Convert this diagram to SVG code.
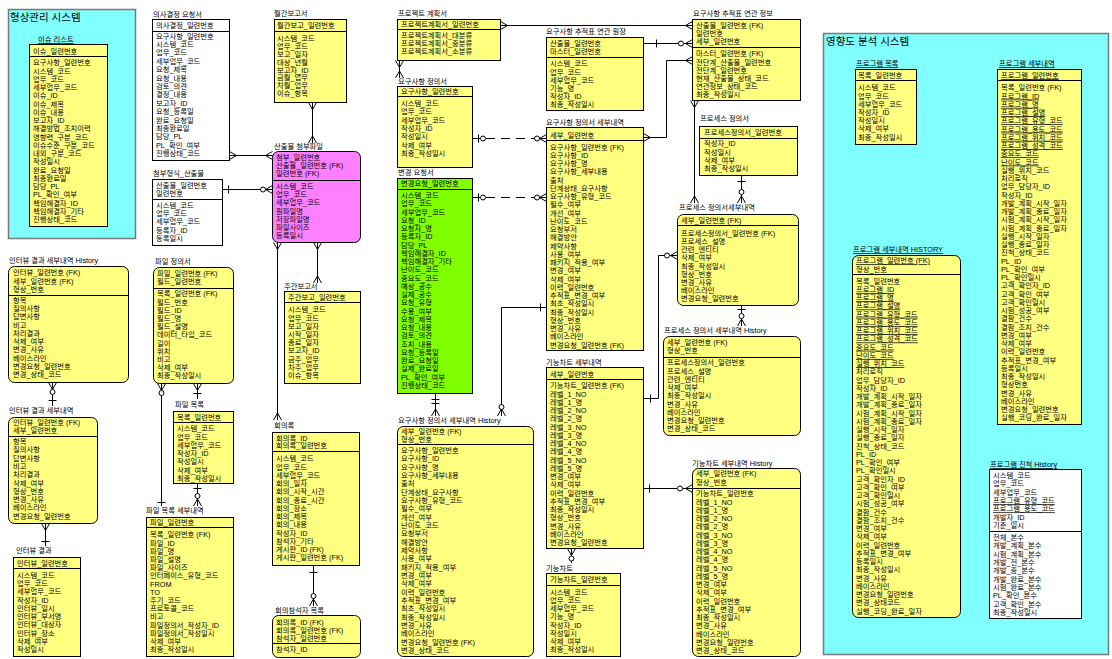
<svg xmlns="http://www.w3.org/2000/svg" xmlns:xlink="http://www.w3.org/1999/xlink" width="1112" height="659" viewBox="0 0 1112 659">
<style>
text{font-family:"Liberation Sans","Noto Sans CJK KR",sans-serif;font-size:7.3px;fill:#000}
.ttl{font-size:10.5px}
.u{text-decoration:underline}
.y{fill:#FFFF80;stroke:#000;stroke-width:1}
.w{fill:#FFFFFF;stroke:#000;stroke-width:1}
.m{fill:#FF80FF;stroke:#000;stroke-width:1}
.g{fill:#80FF00;stroke:#000;stroke-width:1}
.area{fill:#80FFFF;stroke:#7A7A7A;stroke-width:1.5}
.s{stroke:#000;stroke-width:1}
.c{stroke:#000;stroke-width:1;fill:none}
.d{stroke-dasharray:9 6}
.o{fill:#fff;stroke:#000;stroke-width:1}
</style>
<defs>
<path id="cf" d="M0,-4 L7,0 L0,4 M0,0 H7" fill="none" stroke="#000" stroke-width="1"/>
</defs>
<rect width="1112" height="659" fill="#fff"/>

<g id="area-config">
<rect class="area" x="8.5" y="9.5" width="127" height="229"/>
<text class="ttl" x="10" y="21">형상관리 시스템</text>
</g>
<g id="area-impact">
<rect class="area" x="823.5" y="33.5" width="285" height="621"/>
<text class="ttl" x="826" y="44.5">영향도 분석 시스템</text>
</g>

<g id="issue-list">
<text class="u" x="38" y="42">이슈 리스트</text>
<rect class="y" x="29.5" y="44.5" width="78" height="182"/>
<text x="33" y="53.5">이슈_일련번호</text>
<line class="s" x1="29.5" y1="56.5" x2="107.5" y2="56.5"/>
<text x="33" y="65.3"><tspan x="33">요구사항_일련번호</tspan><tspan x="33" dy="8.26">시스템_코드</tspan><tspan x="33" dy="8.26">업무_코드</tspan><tspan x="33" dy="8.26">세부업무_코드</tspan><tspan x="33" dy="8.26">이슈_ID</tspan><tspan x="33" dy="8.26">이슈_제목</tspan><tspan x="33" dy="8.26">이슈_내용</tspan><tspan x="33" dy="8.26">보고자_ID</tspan><tspan x="33" dy="8.26">해결방법_조치이력</tspan><tspan x="33" dy="8.26">영향력_구분_코드</tspan><tspan x="33" dy="8.26">이슈수준_구분_코드</tspan><tspan x="33" dy="8.26">내외_구분_코드</tspan><tspan x="33" dy="8.26">작성일시</tspan><tspan x="33" dy="8.26">완료_요청일</tspan><tspan x="33" dy="8.26">최종완료일</tspan><tspan x="33" dy="8.26">담당_PL</tspan><tspan x="33" dy="8.26">PL_확인_여부</tspan><tspan x="33" dy="8.26">책임해결자_ID</tspan><tspan x="33" dy="8.26">책임해결자_기타</tspan><tspan x="33" dy="8.26">진행상태_코드</tspan></text>
</g>

<g id="decision-request">
<text x="153" y="16.5">의사결정 요청서</text>
<rect class="w" x="152.5" y="19.5" width="77" height="141"/>
<text x="156" y="28">의사결정_일련번호</text>
<line class="s" x1="152.5" y1="31.5" x2="229.5" y2="31.5"/>
<text x="156" y="38.7"><tspan x="156">요구사항_일련번호</tspan><tspan x="156" dy="8.38">시스템_코드</tspan><tspan x="156" dy="8.38">업무_코드</tspan><tspan x="156" dy="8.38">세부업무_코드</tspan><tspan x="156" dy="8.38">요청_제목</tspan><tspan x="156" dy="8.38">요청_내용</tspan><tspan x="156" dy="8.38">검토_의견</tspan><tspan x="156" dy="8.38">결정_내용</tspan><tspan x="156" dy="8.38">보고자_ID</tspan><tspan x="156" dy="8.38">요청_등록일</tspan><tspan x="156" dy="8.38">완료_요청일</tspan><tspan x="156" dy="8.38">최종완료일</tspan><tspan x="156" dy="8.38">담당_PL</tspan><tspan x="156" dy="8.38">PL_확인_여부</tspan><tspan x="156" dy="8.38">진행상태_코드</tspan></text>
</g>

<g id="attach-type-output">
<text x="153" y="176">첨부형식_산출물</text>
<rect class="w" x="152.5" y="179.5" width="70" height="66"/>
<text x="156" y="188">산출물_일련번호</text>
<text x="156" y="196.3">일련번호</text>
<line class="s" x1="152.5" y1="199.5" x2="222.5" y2="199.5"/>
<text x="156" y="208"><tspan x="156">시스템_코드</tspan><tspan x="156" dy="8.2">업무_코드</tspan><tspan x="156" dy="8.2">세부업무_코드</tspan><tspan x="156" dy="8.2">등록자_ID</tspan><tspan x="156" dy="8.2">등록일시</tspan></text>
</g>

<g id="monthly-report">
<text x="274" y="16">월간보고서</text>
<rect class="y" x="274.5" y="19.5" width="72" height="83"/>
<text x="277" y="28">월간보고_일련번호</text>
<line class="s" x1="274.5" y1="31.5" x2="346.5" y2="31.5"/>
<text x="277" y="40.7"><tspan x="277">시스템_코드</tspan><tspan x="277" dy="7.95">업무_코드</tspan><tspan x="277" dy="7.95">보고_일자</tspan><tspan x="277" dy="7.95">대상_년월</tspan><tspan x="277" dy="7.95">보고자_ID</tspan><tspan x="277" dy="7.95">금월_업무</tspan><tspan x="277" dy="7.95">차월_업무</tspan><tspan x="277" dy="7.95">이슈_항목</tspan></text>
</g>

<g id="output-attachment">
<text x="274" y="149">산출물 첨부파일</text>
<rect class="m" x="272.5" y="151.5" width="88" height="91" rx="6"/>
<text x="276" y="160">첨부_일련번호</text>
<text x="276" y="168">산출물_일련번호 (FK)</text>
<text x="276" y="176">일련번호 (FK)</text>
<line class="s" x1="272.5" y1="180.5" x2="360.5" y2="180.5"/>
<text x="276" y="189"><tspan x="276">시스템_코드</tspan><tspan x="276" dy="8.2">업무_코드</tspan><tspan x="276" dy="8.2">세부업무_코드</tspan><tspan x="276" dy="8.2">원파일명</tspan><tspan x="276" dy="8.2">저장파일명</tspan><tspan x="276" dy="8.2">파일사이즈</tspan><tspan x="276" dy="8.2">등록일시</tspan></text>
</g>

<g id="weekly-report">
<text x="284" y="289">주간보고서</text>
<rect class="y" x="284.5" y="291.5" width="76" height="92"/>
<text x="288" y="300.3">주간보고_일련번호</text>
<line class="s" x1="284.5" y1="302.5" x2="360.5" y2="302.5"/>
<text x="288" y="312.3"><tspan x="288">시스템_코드</tspan><tspan x="288" dy="8.2">업무_코드</tspan><tspan x="288" dy="8.2">보고_일자</tspan><tspan x="288" dy="8.2">시작_일자</tspan><tspan x="288" dy="8.2">종료_일자</tspan><tspan x="288" dy="8.2">보고자_ID</tspan><tspan x="288" dy="8.2">금주_업무</tspan><tspan x="288" dy="8.2">차주_업무</tspan><tspan x="288" dy="8.2">이슈_항목</tspan></text>
</g>

<g id="meeting-minutes">
<text x="274" y="428">회의록</text>
<rect class="y" x="272.5" y="432.5" width="87" height="133"/>
<text x="276" y="440.5">회의록_ID</text>
<text x="276" y="448">회의록_일련번호</text>
<line class="s" x1="272.5" y1="451.5" x2="359.5" y2="451.5"/>
<text x="276" y="461.3"><tspan x="276">시스템_코드</tspan><tspan x="276" dy="8.25">업무_코드</tspan><tspan x="276" dy="8.25">세부업무_코드</tspan><tspan x="276" dy="8.25">회의_일자</tspan><tspan x="276" dy="8.25">회의_시작_시간</tspan><tspan x="276" dy="8.25">회의_종료_시간</tspan><tspan x="276" dy="8.25">회의_장소</tspan><tspan x="276" dy="8.25">회의_제목</tspan><tspan x="276" dy="8.25">회의_내용</tspan><tspan x="276" dy="8.25">작성자_ID</tspan><tspan x="276" dy="8.25">참석자_기타</tspan><tspan x="276" dy="8.25">게시판_ID (FK)</tspan><tspan x="276" dy="8.25">게시판_일련번호 (FK)</tspan></text>
</g>

<g id="meeting-attendees">
<text x="275" y="613">회의참석자 목록</text>
<rect class="y" x="272.5" y="615.5" width="88" height="42" rx="6"/>
<text x="276" y="624.7">회의록_ID (FK)</text>
<text x="276" y="632.5">회의록_일련번호 (FK)</text>
<text x="276" y="640.5">참석자_일련번호</text>
<line class="s" x1="272.5" y1="643.5" x2="360.5" y2="643.5"/>
<text x="276" y="652.3">참석자_ID</text>
</g>

<g id="project-plan">
<text x="398" y="16">프로젝트 계획서</text>
<rect class="y" x="397.5" y="19.5" width="103" height="41"/>
<text x="401" y="27">프로젝트계획서_일련번호</text>
<line class="s" x1="397.5" y1="29.5" x2="500.5" y2="29.5"/>
<text x="401" y="38"><tspan x="401">프로젝트계획서_대분류</tspan><tspan x="401" dy="8.2">프로젝트계획서_중분류</tspan><tspan x="401" dy="8.2">프로젝트계획서_소분류</tspan></text>
</g>

<g id="requirement-spec">
<text x="398" y="84">요구사항 정의서</text>
<rect class="y" x="397.5" y="86.5" width="75" height="81"/>
<text x="401" y="93.7">요구사항_일련번호</text>
<line class="s" x1="397.5" y1="96.5" x2="472.5" y2="96.5"/>
<text x="401" y="105.7"><tspan x="401">시스템_코드</tspan><tspan x="401" dy="8.43">업무_코드</tspan><tspan x="401" dy="8.43">세부업무_코드</tspan><tspan x="401" dy="8.43">작성자_ID</tspan><tspan x="401" dy="8.43">작성일시</tspan><tspan x="401" dy="8.43">삭제_여부</tspan><tspan x="401" dy="8.43">최종_작성일시</tspan></text>
</g>

<g id="change-request">
<text x="398" y="175">변경 요청서</text>
<rect class="g" x="397.5" y="178.5" width="75" height="215"/>
<text x="401" y="186.3">변경요청_일련번호</text>
<line class="s" x1="397.5" y1="189.5" x2="472.5" y2="189.5"/>
<text x="401" y="198"><tspan x="401">시스템_코드</tspan><tspan x="401" dy="8.26">업무_코드</tspan><tspan x="401" dy="8.26">세부업무_코드</tspan><tspan x="401" dy="8.26">요청_ID</tspan><tspan x="401" dy="8.26">요청자_명</tspan><tspan x="401" dy="8.26">등록자_ID</tspan><tspan x="401" dy="8.26">담당_PL</tspan><tspan x="401" dy="8.26">책임해결자_ID</tspan><tspan x="401" dy="8.26">책임해결자_기타</tspan><tspan x="401" dy="8.26">난이도_코드</tspan><tspan x="401" dy="8.26">중요도_코드</tspan><tspan x="401" dy="8.26">예상_공수</tspan><tspan x="401" dy="8.26">실제_공수</tspan><tspan x="401" dy="8.26">요청_유형</tspan><tspan x="401" dy="8.26">수용_여부</tspan><tspan x="401" dy="8.26">요청_제목</tspan><tspan x="401" dy="8.26">요청_내용</tspan><tspan x="401" dy="8.26">검토_의견</tspan><tspan x="401" dy="8.26">조치_내용</tspan><tspan x="401" dy="8.26">요청_등록일</tspan><tspan x="401" dy="8.26">완료_요청일</tspan><tspan x="401" dy="8.26">실제_완료일</tspan><tspan x="401" dy="8.26">PL_확인_여부</tspan><tspan x="401" dy="8.26">진행상태_코드</tspan></text>
</g>

<g id="requirement-detail-history">
<text x="398" y="423">요구사항 정의서 세부내역 History</text>
<rect class="y" x="397.5" y="426.5" width="136" height="230" rx="6"/>
<text x="401" y="433.7">세부_일련번호 (FK)</text>
<text x="401" y="441.9">형상_번호</text>
<line class="s" x1="397.5" y1="444.5" x2="533.5" y2="444.5"/>
<text x="401" y="453"><tspan x="401">요구사항_일련번호</tspan><tspan x="401" dy="8.33">요구사항_ID</tspan><tspan x="401" dy="8.33">요구사항_명</tspan><tspan x="401" dy="8.33">요구사항_세부내용</tspan><tspan x="401" dy="8.33">출처</tspan><tspan x="401" dy="8.33">단계상태_요구사항</tspan><tspan x="401" dy="8.33">요구사항_유형_코드</tspan><tspan x="401" dy="8.33">필수_여부</tspan><tspan x="401" dy="8.33">개선_여부</tspan><tspan x="401" dy="8.33">난이도_코드</tspan><tspan x="401" dy="8.33">요청부서</tspan><tspan x="401" dy="8.33">해결방안</tspan><tspan x="401" dy="8.33">제약사항</tspan><tspan x="401" dy="8.33">사용_여부</tspan><tspan x="401" dy="8.33">패키지_적용_여부</tspan><tspan x="401" dy="8.33">변경_여부</tspan><tspan x="401" dy="8.33">삭제_여부</tspan><tspan x="401" dy="8.33">이력_일련번호</tspan><tspan x="401" dy="8.33">추적표_변경_여부</tspan><tspan x="401" dy="8.33">최초_작성일시</tspan><tspan x="401" dy="8.33">최종_작성일시</tspan><tspan x="401" dy="8.33">변경_사유</tspan><tspan x="401" dy="8.33">베이스라인</tspan><tspan x="401" dy="8.33">변경요청_일련번호 (FK)</tspan><tspan x="401" dy="8.33">변경_상태_코드</tspan></text>
</g>

<g id="requirement-detail">
<text x="546" y="124.7">요구사항 정의서 세부내역</text>
<rect class="y" x="546.5" y="127.5" width="97" height="223"/>
<text x="550" y="138">세부_일련번호</text>
<line class="s" x1="546.5" y1="140.5" x2="643.5" y2="140.5"/>
<text x="550" y="149.7"><tspan x="550">요구사항_일련번호 (FK)</tspan><tspan x="550" dy="8.25">요구사항_ID</tspan><tspan x="550" dy="8.25">요구사항_명</tspan><tspan x="550" dy="8.25">요구사항_세부내용</tspan><tspan x="550" dy="8.25">출처</tspan><tspan x="550" dy="8.25">단계상태_요구사항</tspan><tspan x="550" dy="8.25">요구사항_유형_코드</tspan><tspan x="550" dy="8.25">필수_여부</tspan><tspan x="550" dy="8.25">개선_여부</tspan><tspan x="550" dy="8.25">난이도_코드</tspan><tspan x="550" dy="8.25">요청부서</tspan><tspan x="550" dy="8.25">해결방안</tspan><tspan x="550" dy="8.25">제약사항</tspan><tspan x="550" dy="8.25">사용_여부</tspan><tspan x="550" dy="8.25">패키지_적용_여부</tspan><tspan x="550" dy="8.25">변경_여부</tspan><tspan x="550" dy="8.25">삭제_여부</tspan><tspan x="550" dy="8.25">이력_일련번호</tspan><tspan x="550" dy="8.25">추적표_변경_여부</tspan><tspan x="550" dy="8.25">최초_작성일시</tspan><tspan x="550" dy="8.25">최종_작성일시</tspan><tspan x="550" dy="8.25">형상_번호</tspan><tspan x="550" dy="8.25">변경_사유</tspan><tspan x="550" dy="8.25">베이스라인</tspan><tspan x="550" dy="8.25">변경요청_일련번호 (FK)</tspan></text>
</g>

<g id="function-chart-detail">
<text x="546" y="364.7">기능차트 세부내역</text>
<rect class="y" x="546.5" y="367.5" width="97" height="181"/>
<text x="550" y="377">세부_일련번호</text>
<line class="s" x1="546.5" y1="379.5" x2="643.5" y2="379.5"/>
<text x="550" y="388.3"><tspan x="550">기능차트_일련번호 (FK)</tspan><tspan x="550" dy="8.25">레벨_1_NO</tspan><tspan x="550" dy="8.25">레벨_1_명</tspan><tspan x="550" dy="8.25">레벨_2_NO</tspan><tspan x="550" dy="8.25">레벨_2_명</tspan><tspan x="550" dy="8.25">레벨_3_NO</tspan><tspan x="550" dy="8.25">레벨_3_명</tspan><tspan x="550" dy="8.25">레벨_4_NO</tspan><tspan x="550" dy="8.25">레벨_4_명</tspan><tspan x="550" dy="8.25">레벨_5_NO</tspan><tspan x="550" dy="8.25">레벨_5_명</tspan><tspan x="550" dy="8.25">변경_여부</tspan><tspan x="550" dy="8.25">삭제_여부</tspan><tspan x="550" dy="8.25">이력_일련번호</tspan><tspan x="550" dy="8.25">추적표_변경_여부</tspan><tspan x="550" dy="8.25">최종_작성일시</tspan><tspan x="550" dy="8.25">형상_번호</tspan><tspan x="550" dy="8.25">변경_사유</tspan><tspan x="550" dy="8.25">베이스라인</tspan><tspan x="550" dy="8.25">변경요청_일련번호</tspan></text>
</g>

<g id="function-chart">
<text x="546" y="570.5">기능차트</text>
<rect class="y" x="546.5" y="573.5" width="74" height="83"/>
<text x="550" y="582.3">기능차트_일련번호</text>
<line class="s" x1="546.5" y1="585.5" x2="620.5" y2="585.5"/>
<text x="550" y="594.7"><tspan x="550">시스템_코드</tspan><tspan x="550" dy="8.23">업무_코드</tspan><tspan x="550" dy="8.23">세부업무_코드</tspan><tspan x="550" dy="8.23">기능_명</tspan><tspan x="550" dy="8.23">작성자_ID</tspan><tspan x="550" dy="8.23">작성일시</tspan><tspan x="550" dy="8.23">삭제_여부</tspan><tspan x="550" dy="8.23">최종_작성일시</tspan></text>
</g>

<g id="trace-ledger">
<text x="546" y="34">요구사항 추적표 연관 원장</text>
<rect class="y" x="546.5" y="37.5" width="97" height="73"/>
<text x="550" y="45.8">산출물_일련번호</text>
<text x="550" y="54">마스터_일련번호</text>
<line class="s" x1="546.5" y1="57.5" x2="643.5" y2="57.5"/>
<text x="550" y="66.3"><tspan x="550">시스템_코드</tspan><tspan x="550" dy="8.2">업무_코드</tspan><tspan x="550" dy="8.2">세부업무_코드</tspan><tspan x="550" dy="8.2">기능_명</tspan><tspan x="550" dy="8.2">작성자_ID</tspan><tspan x="550" dy="8.2">최종_작성일시</tspan></text>
</g>

<g id="trace-info">
<text x="693" y="16.3">요구사항 추적표 연관 정보</text>
<rect class="y" x="692.5" y="19.5" width="108" height="81"/>
<text x="696" y="27.7">산출물_일련번호 (FK)</text>
<text x="696" y="35.9">일련번호</text>
<text x="696" y="44.1">세부_일련번호</text>
<line class="s" x1="692.5" y1="47.5" x2="800.5" y2="47.5"/>
<text x="696" y="56.3"><tspan x="696">마스터_일련번호 (FK)</tspan><tspan x="696" dy="8.2">전단계_산출물_일련번호</tspan><tspan x="696" dy="8.2">전단계_일련번호</tspan><tspan x="696" dy="8.2">현재_산출물_상태_코드</tspan><tspan x="696" dy="8.2">연관정보_상태_코드</tspan><tspan x="696" dy="8.2">최종_작성일시</tspan></text>
</g>

<g id="process-spec">
<text x="700" y="121">프로세스 정의서</text>
<rect class="y" x="699.5" y="126.5" width="98" height="49"/>
<text x="704" y="135.3">프로세스정의서_일련번호</text>
<line class="s" x1="699.5" y1="138.5" x2="797.5" y2="138.5"/>
<text x="704" y="146.3"><tspan x="704">작성자_ID</tspan><tspan x="704" dy="8.3">작성일시</tspan><tspan x="704" dy="8.3">삭제_여부</tspan><tspan x="704" dy="8.3">최종_작성일시</tspan></text>
</g>

<g id="process-detail">
<text x="679" y="210.3">프로세스 정의서세부내역</text>
<rect class="y" x="677.5" y="214.5" width="121" height="91" rx="6"/>
<text x="681" y="222.5">세부_일련번호 (FK)</text>
<line class="s" x1="677.5" y1="225.5" x2="798.5" y2="225.5"/>
<text x="681" y="235.7"><tspan x="681">프로세스정의서_일련번호 (FK)</tspan><tspan x="681" dy="8.2">프로세스_설명</tspan><tspan x="681" dy="8.2">관련_엔티티</tspan><tspan x="681" dy="8.2">삭제_여부</tspan><tspan x="681" dy="8.2">최종_작성일시</tspan><tspan x="681" dy="8.2">형상_번호</tspan><tspan x="681" dy="8.2">변경_사유</tspan><tspan x="681" dy="8.2">베이스라인</tspan><tspan x="681" dy="8.2">변경요청_일련번호</tspan></text>
</g>

<g id="process-detail-history">
<text x="664" y="333">프로세스 정의서 세부내역 History</text>
<rect class="y" x="663.5" y="336.5" width="137" height="99" rx="6"/>
<text x="667" y="345">세부_일련번호 (FK)</text>
<text x="667" y="353.2">형상_번호</text>
<line class="s" x1="663.5" y1="357.5" x2="800.5" y2="357.5"/>
<text x="667" y="365.3"><tspan x="667">프로세스정의서_일련번호</tspan><tspan x="667" dy="8.25">프로세스_설명</tspan><tspan x="667" dy="8.25">관련_엔티티</tspan><tspan x="667" dy="8.25">삭제_여부</tspan><tspan x="667" dy="8.25">최종_작성일시</tspan><tspan x="667" dy="8.25">변경_사유</tspan><tspan x="667" dy="8.25">베이스라인</tspan><tspan x="667" dy="8.25">변경요청_일련번호</tspan><tspan x="667" dy="8.25">변경_상태_코드</tspan></text>
</g>

<g id="function-chart-detail-history">
<text x="692" y="466">기능차트 세부내역 History</text>
<rect class="y" x="692.5" y="468.5" width="108" height="188" rx="6"/>
<text x="696" y="476.3">세부_일련번호 (FK)</text>
<text x="696" y="484.6">형상_번호</text>
<line class="s" x1="692.5" y1="488.5" x2="800.5" y2="488.5"/>
<text x="696" y="496.3"><tspan x="696">기능차트_일련번호</tspan><tspan x="696" dy="8.25">레벨_1_NO</tspan><tspan x="696" dy="8.25">레벨_1_명</tspan><tspan x="696" dy="8.25">레벨_2_NO</tspan><tspan x="696" dy="8.25">레벨_2_명</tspan><tspan x="696" dy="8.25">레벨_3_NO</tspan><tspan x="696" dy="8.25">레벨_3_명</tspan><tspan x="696" dy="8.25">레벨_4_NO</tspan><tspan x="696" dy="8.25">레벨_4_명</tspan><tspan x="696" dy="8.25">레벨_5_NO</tspan><tspan x="696" dy="8.25">레벨_5_명</tspan><tspan x="696" dy="8.25">변경_여부</tspan><tspan x="696" dy="8.25">삭제_여부</tspan><tspan x="696" dy="8.25">이력_일련번호</tspan><tspan x="696" dy="8.25">추적표_변경_여부</tspan><tspan x="696" dy="8.25">최종_작성일시</tspan><tspan x="696" dy="8.25">변경_사유</tspan><tspan x="696" dy="8.25">베이스라인</tspan><tspan x="696" dy="8.25">변경요청_일련번호</tspan><tspan x="696" dy="8.25">변경_상태_코드</tspan></text>
</g>

<g id="program-list">
<text class="u" x="856" y="66">프로그램 목록</text>
<rect class="y" x="855.5" y="69.5" width="61" height="75"/>
<text x="858" y="78">목록_일련번호</text>
<line class="s" x1="855.5" y1="80.5" x2="916.5" y2="80.5"/>
<text x="858" y="90.3"><tspan x="858">시스템_코드</tspan><tspan x="858" dy="8.23">업무_코드</tspan><tspan x="858" dy="8.23">세부업무_코드</tspan><tspan x="858" dy="8.23">작성자_ID</tspan><tspan x="858" dy="8.23">작성일시</tspan><tspan x="858" dy="8.23">삭제_여부</tspan><tspan x="858" dy="8.23">최종_작성일시</tspan></text>
</g>

<g id="program-detail">
<text class="u" x="999" y="66">프로그램 세부내역</text>
<rect class="y" x="997.5" y="69.5" width="84" height="355"/>
<text class="u" x="1001" y="78">프로그램_일련번호</text>
<line class="s" x1="997.5" y1="80.5" x2="1081.5" y2="80.5"/>
<text x="1001" y="90.3"><tspan x="1001">목록_일련번호 (FK)</tspan><tspan class="u" x="1001" dy="8.25">프로그램_ID</tspan><tspan class="u" x="1001" dy="8.25">프로그램_명</tspan><tspan class="u" x="1001" dy="8.25">프로그램_설명</tspan><tspan class="u" x="1001" dy="8.25">프로그램_유형_코드</tspan><tspan class="u" x="1001" dy="8.25">프로그램_용도_코드</tspan><tspan class="u" x="1001" dy="8.25">프로그램_위치_코드</tspan><tspan class="u" x="1001" dy="8.25">프로그램_성격_코드</tspan><tspan class="u" x="1001" dy="8.25">중요도_코드</tspan><tspan class="u" x="1001" dy="8.25">난이도_코드</tspan><tspan x="1001" dy="8.25">실행_위치_코드</tspan><tspan x="1001" dy="8.25">처리로직</tspan><tspan x="1001" dy="8.25">업무_담당자_ID</tspan><tspan x="1001" dy="8.25">작성자_ID</tspan><tspan x="1001" dy="8.25">개발_계획_시작_일자</tspan><tspan x="1001" dy="8.25">개발_계획_종료_일자</tspan><tspan x="1001" dy="8.25">시험_계획_시작_일자</tspan><tspan x="1001" dy="8.25">시험_계획_종료_일자</tspan><tspan x="1001" dy="8.25">실행_시작_일자</tspan><tspan x="1001" dy="8.25">실행_종료_일자</tspan><tspan x="1001" dy="8.25">진척_상태_코드</tspan><tspan x="1001" dy="8.25">PL_ID</tspan><tspan x="1001" dy="8.25">PL_확인_여부</tspan><tspan x="1001" dy="8.25">PL_확인일시</tspan><tspan x="1001" dy="8.25">고객_확인자_ID</tspan><tspan x="1001" dy="8.25">고객_확인_여부</tspan><tspan x="1001" dy="8.25">고객_확인일시</tspan><tspan x="1001" dy="8.25">시험_성공_여부</tspan><tspan x="1001" dy="8.25">결함_건수</tspan><tspan x="1001" dy="8.25">결함_조치_건수</tspan><tspan x="1001" dy="8.25">변경_여부</tspan><tspan x="1001" dy="8.25">삭제_여부</tspan><tspan x="1001" dy="8.25">이력_일련번호</tspan><tspan x="1001" dy="8.25">추적표_변경_여부</tspan><tspan x="1001" dy="8.25">등록일시</tspan><tspan x="1001" dy="8.25">최종_작성일시</tspan><tspan x="1001" dy="8.25">형상번호</tspan><tspan x="1001" dy="8.25">변경_사유</tspan><tspan x="1001" dy="8.25">베이스라인</tspan><tspan x="1001" dy="8.25">변경요청_일련번호</tspan><tspan x="1001" dy="8.25">실행_코딩_완료_일자</tspan></text>
</g>

<g id="program-detail-history">
<text class="u" x="853" y="252">프로그램 세부내역 HISTORY</text>
<rect class="y" x="852.5" y="255.5" width="108" height="362" rx="6"/>
<text class="u" x="856" y="263.3">프로그램_일련번호 (FK)</text>
<text x="856" y="271.6">형상_번호</text>
<line class="s" x1="852.5" y1="274.5" x2="960.5" y2="274.5"/>
<text x="856" y="283.7"><tspan x="856">목록_일련번호</tspan><tspan class="u" x="856" dy="8.25">프로그램_ID</tspan><tspan class="u" x="856" dy="8.25">프로그램_명</tspan><tspan class="u" x="856" dy="8.25">프로그램_설명</tspan><tspan class="u" x="856" dy="8.25">프로그램_유형_코드</tspan><tspan class="u" x="856" dy="8.25">프로그램_용도_코드</tspan><tspan class="u" x="856" dy="8.25">프로그램_위치_코드</tspan><tspan class="u" x="856" dy="8.25">프로그램_성격_코드</tspan><tspan class="u" x="856" dy="8.25">중요도_코드</tspan><tspan class="u" x="856" dy="8.25">난이도_코드</tspan><tspan class="u" x="856" dy="8.25">실행_위치_코드</tspan><tspan x="856" dy="8.25">처리로직</tspan><tspan x="856" dy="8.25">업무_담당자_ID</tspan><tspan x="856" dy="8.25">작성자_ID</tspan><tspan x="856" dy="8.25">개발_계획_시작_일자</tspan><tspan x="856" dy="8.25">개발_계획_종료_일자</tspan><tspan x="856" dy="8.25">시험_계획_시작_일자</tspan><tspan x="856" dy="8.25">시험_계획_종료_일자</tspan><tspan x="856" dy="8.25">실행_시작_일자</tspan><tspan x="856" dy="8.25">실행_종료_일자</tspan><tspan x="856" dy="8.25">진척_상태_코드</tspan><tspan x="856" dy="8.25">PL_ID</tspan><tspan x="856" dy="8.25">PL_확인_여부</tspan><tspan x="856" dy="8.25">PL_확인일시</tspan><tspan x="856" dy="8.25">고객_확인자_ID</tspan><tspan x="856" dy="8.25">고객_확인_여부</tspan><tspan x="856" dy="8.25">고객_확인일시</tspan><tspan x="856" dy="8.25">시험_성공_여부</tspan><tspan x="856" dy="8.25">결함_건수</tspan><tspan x="856" dy="8.25">결함_조치_건수</tspan><tspan x="856" dy="8.25">변경_여부</tspan><tspan x="856" dy="8.25">삭제_여부</tspan><tspan x="856" dy="8.25">이력_일련번호</tspan><tspan x="856" dy="8.25">추적표_변경_여부</tspan><tspan x="856" dy="8.25">등록일시</tspan><tspan x="856" dy="8.25">최종_작성일시</tspan><tspan x="856" dy="8.25">변경_사유</tspan><tspan x="856" dy="8.25">베이스라인</tspan><tspan x="856" dy="8.25">변경요청_일련번호</tspan><tspan x="856" dy="8.25">변경_상태코드</tspan><tspan x="856" dy="8.25">실행_코딩_완료_일자</tspan></text>
</g>

<g id="program-progress-history">
<text class="u" x="990" y="467">프로그램 진척 History</text>
<rect class="w" x="989.5" y="469.5" width="92" height="149"/>
<text x="993" y="478"><tspan x="993">시스템_코드</tspan><tspan x="993" dy="8.33">업무_코드</tspan><tspan x="993" dy="8.33">세부업무_코드</tspan><tspan class="u" x="993" dy="8.33">프로그램_유형_코드</tspan><tspan class="u" x="993" dy="8.33">프로그램_용도_코드</tspan><tspan x="993" dy="8.33">개발자_ID</tspan><tspan x="993" dy="8.33">기준_일시</tspan></text>
<line class="s" x1="989.5" y1="531.5" x2="1081.5" y2="531.5"/>
<text x="993" y="540"><tspan x="993">전체_본수</tspan><tspan x="993" dy="8.33">개발_계획_본수</tspan><tspan x="993" dy="8.33">시험_계획_본수</tspan><tspan x="993" dy="8.33">개발_전_본수</tspan><tspan x="993" dy="8.33">개발_중_본수</tspan><tspan x="993" dy="8.33">개발_완료_본수</tspan><tspan x="993" dy="8.33">시험_완료_본수</tspan><tspan x="993" dy="8.33">PL_확인_본수</tspan><tspan x="993" dy="8.33">고객_확인_본수</tspan><tspan x="993" dy="8.33">최종_작성일시</tspan></text>
</g>

<g id="interview-detail-history">
<text x="9" y="263">인터뷰 결과 세부내역 History</text>
<rect class="y" x="8.5" y="266.5" width="120" height="116" rx="6"/>
<text x="13" y="275.3">인터뷰_일련번호 (FK)</text>
<text x="13" y="283.6">세부_일련번호 (FK)</text>
<text x="13" y="291.9">형상_번호</text>
<line class="s" x1="8.5" y1="295.5" x2="128.5" y2="295.5"/>
<text x="13" y="303"><tspan x="13">항목</tspan><tspan x="13" dy="8.22">질의사항</tspan><tspan x="13" dy="8.22">답변사항</tspan><tspan x="13" dy="8.22">비고</tspan><tspan x="13" dy="8.22">처리결과</tspan><tspan x="13" dy="8.22">삭제_여부</tspan><tspan x="13" dy="8.22">변경_사유</tspan><tspan x="13" dy="8.22">베이스라인</tspan><tspan x="13" dy="8.22">변경요청_일련번호</tspan><tspan x="13" dy="8.22">변경_상태_코드</tspan></text>
</g>

<g id="interview-detail">
<text x="9" y="413">인터뷰 결과 세부내역</text>
<rect class="y" x="8.5" y="417.5" width="89" height="106" rx="6"/>
<text x="13" y="424.7">인터뷰_일련번호 (FK)</text>
<text x="13" y="433">세부_일련번호</text>
<line class="s" x1="8.5" y1="436.5" x2="97.5" y2="436.5"/>
<text x="13" y="444"><tspan x="13">항목</tspan><tspan x="13" dy="8.3">질의사항</tspan><tspan x="13" dy="8.3">답변사항</tspan><tspan x="13" dy="8.3">비고</tspan><tspan x="13" dy="8.3">처리결과</tspan><tspan x="13" dy="8.3">삭제_여부</tspan><tspan x="13" dy="8.3">형상_번호</tspan><tspan x="13" dy="8.3">변경_사유</tspan><tspan x="13" dy="8.3">베이스라인</tspan><tspan x="13" dy="8.3">변경요청_일련번호</tspan></text>
</g>

<g id="interview-result">
<text x="16" y="553">인터뷰 결과</text>
<rect class="y" x="13.5" y="557.5" width="67" height="99"/>
<text x="17" y="566.3">인터뷰_일련번호</text>
<line class="s" x1="13.5" y1="568.5" x2="80.5" y2="568.5"/>
<text x="17" y="578"><tspan x="17">시스템_코드</tspan><tspan x="17" dy="8.22">업무_코드</tspan><tspan x="17" dy="8.22">세부업무_코드</tspan><tspan x="17" dy="8.22">작성자_ID</tspan><tspan x="17" dy="8.22">인터뷰_일시</tspan><tspan x="17" dy="8.22">인터뷰_부서명</tspan><tspan x="17" dy="8.22">인터뷰_대상자</tspan><tspan x="17" dy="8.22">인터뷰_장소</tspan><tspan x="17" dy="8.22">삭제_여부</tspan><tspan x="17" dy="8.22">작성일시</tspan></text>
</g>

<g id="file-spec">
<text x="155" y="264">파일 정의서</text>
<rect class="y" x="153.5" y="267.5" width="80" height="116" rx="6"/>
<text x="157" y="275.5">파일_일련번호 (FK)</text>
<text x="157" y="283.8">필드_일련번호</text>
<line class="s" x1="153.5" y1="288.5" x2="233.5" y2="288.5"/>
<text x="157" y="296.3"><tspan x="157">목록_일련번호 (FK)</tspan><tspan x="157" dy="8.2">필드_번호</tspan><tspan x="157" dy="8.2">필드_ID</tspan><tspan x="157" dy="8.2">필드_명</tspan><tspan x="157" dy="8.2">필드_설명</tspan><tspan x="157" dy="8.2">데이터_타입_코드</tspan><tspan x="157" dy="8.2">길이</tspan><tspan x="157" dy="8.2">위치</tspan><tspan x="157" dy="8.2">비고</tspan><tspan x="157" dy="8.2">삭제_여부</tspan><tspan x="157" dy="8.2">최종_작성일시</tspan></text>
</g>

<g id="file-list">
<text x="175" y="407">파일 목록</text>
<rect class="y" x="173.5" y="411.5" width="60" height="72"/>
<text x="177" y="419.7">목록_일련번호</text>
<line class="s" x1="173.5" y1="422.5" x2="233.5" y2="422.5"/>
<text x="177" y="431.3"><tspan x="177">시스템_코드</tspan><tspan x="177" dy="8.25">업무_코드</tspan><tspan x="177" dy="8.25">세부업무_코드</tspan><tspan x="177" dy="8.25">작성자_ID</tspan><tspan x="177" dy="8.25">작성일시</tspan><tspan x="177" dy="8.25">삭제_여부</tspan><tspan x="177" dy="8.25">최종_작성일시</tspan></text>
</g>

<g id="file-list-detail">
<text x="146" y="513">파일 목록 세부내역</text>
<rect class="y" x="146.5" y="517.5" width="87" height="139"/>
<text x="150" y="524.7">파일_일련번호</text>
<line class="s" x1="146.5" y1="527.5" x2="233.5" y2="527.5"/>
<text x="150" y="537.3"><tspan x="150">목록_일련번호 (FK)</tspan><tspan x="150" dy="8.2">파일_ID</tspan><tspan x="150" dy="8.2">파일_명</tspan><tspan x="150" dy="8.2">파일_설명</tspan><tspan x="150" dy="8.2">파일_사이즈</tspan><tspan x="150" dy="8.2">인터페이스_유형_코드</tspan><tspan x="150" dy="8.2">FROM</tspan><tspan x="150" dy="8.2">TO</tspan><tspan x="150" dy="8.2">주기_코드</tspan><tspan x="150" dy="8.2">프로토콜_코드</tspan><tspan x="150" dy="8.2">비고</tspan><tspan x="150" dy="8.2">파일정의서_작성자_ID</tspan><tspan x="150" dy="8.2">파일정의서_작성일시</tspan><tspan x="150" dy="8.2">삭제_여부</tspan><tspan x="150" dy="8.2">최종_작성일시</tspan></text>
</g>

<g id="connectors">
<path class="c" d="M229,155.5 H272"/>
<use xlink:href="#cf" transform="translate(229.5,155.5)"/>
<use xlink:href="#cf" transform="translate(272.5,155.5) rotate(180)"/>

<path class="c" d="M222,189.5 H272 M228.5,185.5 V193.5"/>
<circle class="o" cx="263" cy="189.5" r="2.5"/>
<use xlink:href="#cf" transform="translate(272.5,189.5) rotate(180)"/>

<path class="c" d="M312.5,102 V143"/>
<use xlink:href="#cf" transform="translate(312.5,102.5) rotate(90)"/>
<use xlink:href="#cf" transform="translate(312.5,143) rotate(-90)"/>

<path class="c" d="M317.5,242 V283"/>
<use xlink:href="#cf" transform="translate(317.5,242.5) rotate(90)"/>
<use xlink:href="#cf" transform="translate(317.5,283) rotate(-90)"/>

<path class="c" d="M277.5,242 V420"/>
<use xlink:href="#cf" transform="translate(277.5,242.5) rotate(90)"/>
<use xlink:href="#cf" transform="translate(277.5,420) rotate(-90)"/>

<path class="c" d="M500,25.5 H692"/>
<use xlink:href="#cf" transform="translate(500.5,25.5)"/>
<use xlink:href="#cf" transform="translate(692.5,25.5) rotate(180)"/>

<path class="c" d="M399.5,60 V78"/>
<use xlink:href="#cf" transform="translate(399.5,60.5) rotate(90)"/>
<use xlink:href="#cf" transform="translate(399.5,78) rotate(-90)"/>

<path class="c" d="M472,138.5 H480 M534,138.5 H546 M478.5,134.5 V142.5"/>
<path class="c d" d="M486,138.5 H534"/>
<circle class="o" cx="483" cy="138.5" r="2.5"/>
<circle class="o" cx="537" cy="138.5" r="2.5"/>
<use xlink:href="#cf" transform="translate(546.5,138.5) rotate(180)"/>

<path class="c" d="M472,197.5 H480 M534,197.5 H546 M478.5,193.5 V201.5"/>
<path class="c d" d="M486,197.5 H534"/>
<circle class="o" cx="483" cy="197.5" r="2.5"/>
<circle class="o" cx="537" cy="197.5" r="2.5"/>
<use xlink:href="#cf" transform="translate(546.5,197.5) rotate(180)"/>

<path class="c" d="M546,307.5 H501.5 V416 M540.5,303.5 V311.5"/>
<circle class="o" cx="501.5" cy="407" r="2.5"/>
<use xlink:href="#cf" transform="translate(501.5,416) rotate(-90)"/>

<path class="c" d="M435.5,393 V416 M431.5,399.5 H439.5 M431.5,403.5 H439.5"/>
<use xlink:href="#cf" transform="translate(435.5,416) rotate(-90)"/>

<path class="c" d="M643,137.5 H666.5 V60.5 H692"/>
<use xlink:href="#cf" transform="translate(643.5,137.5)"/>
<use xlink:href="#cf" transform="translate(692.5,60.5) rotate(180)"/>

<path class="c" d="M643,43.5 H692 M656.5,39.5 V47.5"/>
<circle class="o" cx="681" cy="43.5" r="2.5"/>
<use xlink:href="#cf" transform="translate(692.5,43.5) rotate(180)"/>

<path class="c" d="M694.5,100 V203"/>
<use xlink:href="#cf" transform="translate(694.5,100.5) rotate(90)"/>
<use xlink:href="#cf" transform="translate(694.5,203) rotate(-90)"/>

<path class="c" d="M741.5,175 V203 M737.5,181.5 H745.5"/>
<circle class="o" cx="741.5" cy="192" r="2.5"/>
<use xlink:href="#cf" transform="translate(741.5,203) rotate(-90)"/>

<path class="c" d="M741.5,305 V326 M737.5,309.5 H745.5"/>
<circle class="o" cx="741.5" cy="316" r="2.5"/>
<use xlink:href="#cf" transform="translate(741.5,326) rotate(-90)"/>

<path class="c" d="M643,398.5 H658.5 V255.5 H677 M650.5,394.5 V402.5"/>
<circle class="o" cx="667" cy="255.5" r="2.5"/>
<use xlink:href="#cf" transform="translate(677.5,255.5) rotate(180)"/>

<path class="c" d="M643,488.5 H692 M649.5,484.5 V492.5"/>
<circle class="o" cx="680" cy="488.5" r="2.5"/>
<use xlink:href="#cf" transform="translate(692.5,488.5) rotate(180)"/>

<path class="c" d="M571.5,548 V563"/>
<use xlink:href="#cf" transform="translate(571.5,548.5) rotate(90)"/>
<circle class="o" cx="571.5" cy="558.5" r="2.5"/>

<path class="c" d="M52.5,382 V406 M48.5,400.5 H56.5"/>
<use xlink:href="#cf" transform="translate(52.5,382.5) rotate(90)"/>
<circle class="o" cx="52.5" cy="392" r="2.5"/>

<path class="c" d="M45.5,523 V546 M41.5,541.5 H49.5"/>
<use xlink:href="#cf" transform="translate(45.5,523.5) rotate(90)"/>

<path class="c" d="M161.5,383 V506 M157.5,502.5 H165.5"/>
<use xlink:href="#cf" transform="translate(161.5,383.5) rotate(90)"/>
<circle class="o" cx="161.5" cy="393" r="2.5"/>

<path class="c" d="M197.5,383 V399 M193.5,393.5 H201.5"/>
<use xlink:href="#cf" transform="translate(197.5,383.5) rotate(90)"/>

<path class="c" d="M197.5,483 V506 M193.5,488.5 H201.5"/>
<circle class="o" cx="197.5" cy="496" r="2.5"/>
<use xlink:href="#cf" transform="translate(197.5,506) rotate(-90)"/>

<path class="c" d="M313.5,565 V606 M309.5,572.5 H317.5"/>
<circle class="o" cx="313.5" cy="596" r="2.5"/>
<use xlink:href="#cf" transform="translate(313.5,606) rotate(-90)"/>
</g>
</svg>
